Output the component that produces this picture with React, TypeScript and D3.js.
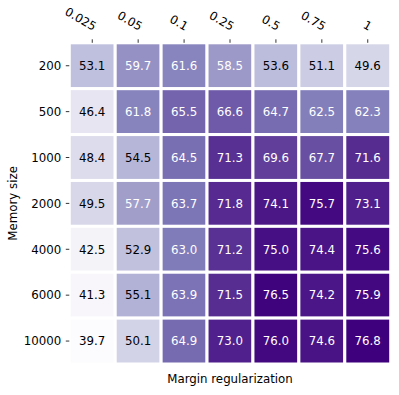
import { useEffect, useRef } from 'react'
import * as d3 from 'd3'

const memorySizes = ['200', '500', '1000', '2000', '4000', '6000', '10000']
const margins = ['0.025', '0.05', '0.1', '0.25', '0.5', '0.75', '1']

const row200 = [53.1, 59.7, 61.6, 58.5, 53.6, 51.1, 49.6]
const row500 = [46.4, 61.8, 65.5, 66.6, 64.7, 62.5, 62.3]
const row1000 = [48.4, 54.5, 64.5, 71.3, 69.6, 67.7, 71.6]
const row2000 = [49.5, 57.7, 63.7, 71.8, 74.1, 75.7, 73.1]
const row4000 = [42.5, 52.9, 63.0, 71.2, 75.0, 74.4, 75.6]
const row6000 = [41.3, 55.1, 63.9, 71.5, 76.5, 74.2, 75.9]
const row10000 = [39.7, 50.1, 64.9, 73.0, 76.0, 74.6, 76.8]

const rows = [row200, row500, row1000, row2000, row4000, row6000, row10000]

const purples = ['#fcfbfd', '#efedf5', '#dadaeb', '#bcbddc', '#9e9ac8', '#807dba', '#6a51a3', '#54278f', '#3f007d']

const FS = '11.8px'

// seaborn-style contrast pick
function luminance(c: string) {
  const rgb = d3.rgb(c)
  const f = (v: number) => {
    v = v / 255
    return v <= 0.03928 ? v / 12.92 : Math.pow((v + 0.055) / 1.055, 2.4)
  }
  return 0.2126 * f(rgb.r) + 0.7152 * f(rgb.g) + 0.0722 * f(rgb.b)
}

export default function App() {
  const ref = useRef<SVGSVGElement>(null)

  useEffect(() => {
    const W = 399, H = 395
    const margin = { top: 42.8, right: 8.3, bottom: 31, left: 69.3 }
    const cells = rows.flatMap((r, i) => r.map((v, j) => ({ row: memorySizes[i], col: margins[j], v })))

    const svg = d3.select(ref.current)
    svg.selectAll('*').remove()

    const x = d3.scaleBand().domain(margins).range([margin.left, W - margin.right])
    const y = d3.scaleBand().domain(memorySizes).range([margin.top, H - margin.bottom])

    const vals = cells.map(d => d.v)
    const [lo, hi] = d3.extent(vals) as [number, number]
    const color = d3.scaleLinear<string>()
      .domain(d3.range(purples.length).map(i => lo + (hi - lo) * i / (purples.length - 1)))
      .range(purples)
      .clamp(true)

    const g = svg.append('g')

    g.selectAll('rect')
      .data(cells)
      .join('rect')
      .attr('x', d => x(d.col)!)
      .attr('y', d => y(d.row)!)
      .attr('width', x.bandwidth())
      .attr('height', y.bandwidth())
      .attr('fill', d => color(d.v))
      .attr('stroke', '#fff')
      .attr('stroke-width', 3)

    g.selectAll('text.val')
      .data(cells)
      .join('text')
      .attr('class', 'val')
      .attr('x', d => x(d.col)! + x.bandwidth() / 2)
      .attr('y', d => y(d.row)! + y.bandwidth() / 2)
      .attr('dy', '0.36em')
      .attr('text-anchor', 'middle')
      .style('font-size', FS)
      .attr('fill', d => (luminance(color(d.v)) > 0.408 ? '#000' : '#fff'))
      .text(d => d.v.toFixed(1))

    // top axis
    const xt = svg.append('g')
    xt.selectAll('line')
      .data(margins)
      .join('line')
      .attr('x1', d => x(d)! + x.bandwidth() / 2)
      .attr('x2', d => x(d)! + x.bandwidth() / 2)
      .attr('y1', margin.top)
      .attr('y2', margin.top - 3.5)
      .attr('stroke', '#000')
      .attr('stroke-width', 0.8)
    xt.selectAll('text')
      .data(margins)
      .join('text')
      .attr('text-anchor', 'end')
      .attr('transform', d => `translate(${x(d)! + x.bandwidth() / 2 + 1},31) rotate(30)`)
      .style('font-size', FS)
      .text(d => d)

    // left axis
    const yt = svg.append('g')
    yt.selectAll('line')
      .data(memorySizes)
      .join('line')
      .attr('x1', margin.left)
      .attr('x2', margin.left - 3.5)
      .attr('y1', d => y(d)! + y.bandwidth() / 2)
      .attr('y2', d => y(d)! + y.bandwidth() / 2)
      .attr('stroke', '#000')
      .attr('stroke-width', 0.8)
    yt.selectAll('text')
      .data(memorySizes)
      .join('text')
      .attr('text-anchor', 'end')
      .attr('x', margin.left - 8)
      .attr('y', d => y(d)! + y.bandwidth() / 2)
      .attr('dy', '0.36em')
      .style('font-size', FS)
      .text(d => d)

    svg.append('text')
      .attr('text-anchor', 'middle')
      .attr('x', (margin.left + W - margin.right) / 2)
      .attr('y', 383)
      .style('font-size', FS)
      .text('Margin regularization')

    svg.append('text')
      .attr('text-anchor', 'middle')
      .attr('transform', `translate(16.5,${(margin.top + H - margin.bottom) / 2}) rotate(-90)`)
      .style('font-size', FS)
      .text('Memory size')
  }, [])

  return (
    <div style={{ position: 'fixed', left: 0, top: 0, background: '#fff' }}>
      <svg ref={ref} width={399} height={395} style={{ display: 'block', fontFamily: 'DejaVu Sans' }} />
    </div>
  )
}
